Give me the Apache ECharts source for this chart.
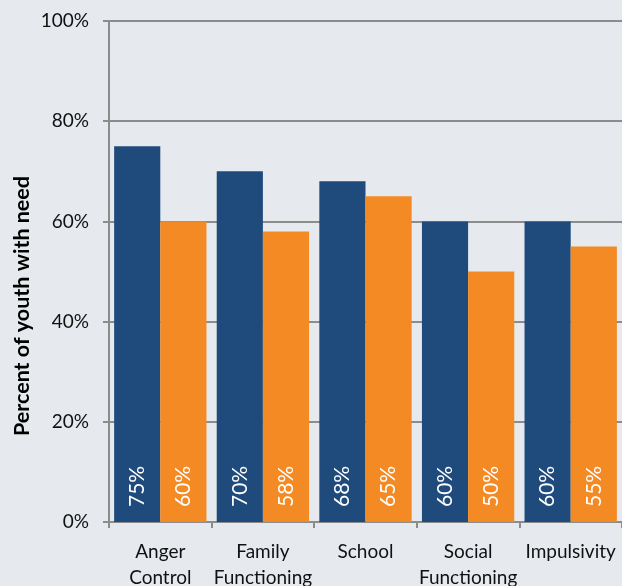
<!DOCTYPE html>
<html>
<head>
<meta charset="utf-8">
<style>
  html, body { margin: 0; padding: 0; background: #e6eaee; }
  #chart { width: 622px; height: 586px; }
</style>
<script src="https://cdn.jsdelivr.net/npm/echarts@6/dist/echarts.min.js"></script>
</head>
<body>
<div id="chart"></div>
<script>
// Needs by domain, two groups of youth
const categories = ['Anger\nControl', 'Family\nFunctioning', 'School', 'Social\nFunctioning', 'Impulsivity'];
const groupA = [75, 70, 68, 60, 60];
const groupB = [60, 58, 65, 50, 55];
const yTicks = [0, 20, 40, 60, 80, 100];

const FONT = 'Lato, "Open Sans", sans-serif';
const GRID_COLOR = '#8c8c8c';

const chart = echarts.init(document.getElementById('chart'), null, { renderer: 'canvas' });

const valueLabel = {
  show: true,
  position: 'insideBottom',
  distance: 15,
  rotate: 90,
  align: 'left',
  verticalAlign: 'middle',
  color: '#ffffff',
  fontFamily: FONT,
  fontSize: 21,
  formatter: p => p.value + '%'
};

chart.setOption({
  backgroundColor: '#e6eaee',
  animation: false,
  grid: { left: 109, right: 0, top: 21, bottom: 64, containLabel: false, outerBoundsMode: 'none' },
  xAxis: {
    type: 'category',
    data: categories,
    axisLine: { show: true, lineStyle: { color: GRID_COLOR, width: 2 } },
    axisTick: { show: true, alignWithLabel: false, length: 6, lineStyle: { color: GRID_COLOR, width: 2 } },
    axisLabel: {
      interval: 0,
      margin: 17,
      color: '#111111',
      fontFamily: FONT,
      fontSize: 19,
      lineHeight: 26
    }
  },
  yAxis: {
    type: 'value',
    min: yTicks[0],
    max: yTicks[yTicks.length - 1],
    interval: yTicks[1] - yTicks[0],
    axisLine: { show: true, lineStyle: { color: GRID_COLOR, width: 2 } },
    axisTick: { show: true, length: 6, lineStyle: { color: GRID_COLOR, width: 2 } },
    splitLine: { show: true, lineStyle: { color: GRID_COLOR, width: 2 } },
    axisLabel: {
      margin: 20,
      color: '#111111',
      fontFamily: FONT,
      fontSize: 19,
      formatter: v => v + '%'
    }
  },
  graphic: [{
    type: 'text',
    x: 22,
    y: 306,
    rotation: Math.PI / 2,
    style: {
      text: 'Percent of youth with need',
      fontFamily: FONT,
      fontWeight: 'bold',
      fontSize: 21.5,
      fill: '#000000',
      align: 'center',
      verticalAlign: 'middle'
    }
  }],
  series: [
    {
      name: 'Group A',
      type: 'bar',
      data: groupA,
      barGap: '0%',
      barCategoryGap: '10%',
      itemStyle: { color: '#1f4a7c' },
      label: valueLabel
    },
    {
      name: 'Group B',
      type: 'bar',
      data: groupB,
      barGap: '0%',
      barCategoryGap: '10%',
      itemStyle: { color: '#f38a24' },
      label: valueLabel
    }
  ]
});
</script>
</body>
</html>
